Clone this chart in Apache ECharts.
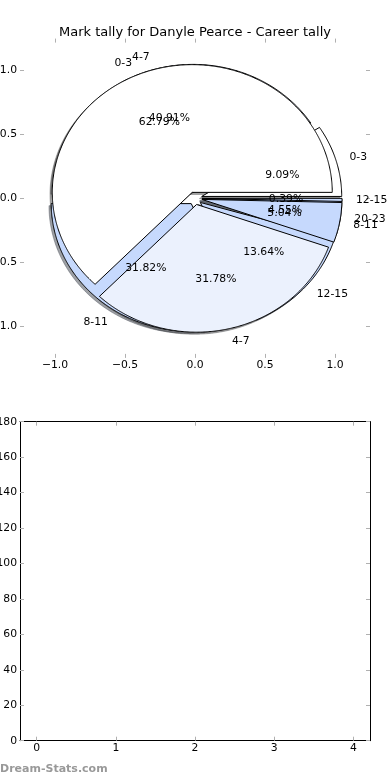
<!DOCTYPE html>
<html><head><meta charset="utf-8">
<script src="https://cdn.jsdelivr.net/npm/echarts@6/dist/echarts.min.js"></script>
<style>html,body{margin:0;padding:0;background:#fff}#c{width:390px;height:780px}</style>
</head><body><div id="c"></div>
<script>
// ---- data ----
const titleText = 'Mark tally for Danyle Pearce - Career tally';
const labelsA = ['0-3', '4-7', '8-11', '12-15', '20-23'];
const valuesA = [2, 9, 7, 3, 1];
const labelsB = ['0-3', '4-7', '8-11', '12-15'];
const valuesB = [162, 82, 13, 1];
const pieTicks = [-1, -0.5, 0, 0.5, 1];
const barXTicks = [0, 1, 2, 3, 4];
const barYTicksMax = 180;
const watermark = 'Dream-Stats.com';
const sliceColors = ['#ffffff', '#ebf1fd', '#c6d9fd', '#c6d9fd', '#a9c6fb'];

// ---- helpers ----
const FONT = 'DejaVu Sans';
const EXPLODE = 0.05;
function buildSlices(values, labels) {
  const tot = values.reduce((a, b) => a + b, 0);
  let acc = 0;
  return values.map((v, i) => {
    const t1 = acc / tot * 360; acc += v; const t2 = acc / tot * 360;
    const mid = (t1 + t2) / 2 * Math.PI / 180;
    return {
      t1, t2, mid, label: labels[i], pct: (v / tot * 100).toFixed(2) + '%',
      color: sliceColors[i % sliceColors.length],
      cx: EXPLODE * Math.cos(mid), cy: EXPLODE * Math.sin(mid)
    };
  });
}
const A = buildSlices(valuesA, labelsA);
const B = buildSlices(valuesB, labelsB);
const ALL = A.concat(B);

function wedgePts(api, s, ox, oy) {
  const pts = [api.coord([s.cx + ox, s.cy + oy])];
  const n = Math.max(2, Math.ceil((s.t2 - s.t1) / 0.5));
  for (let k = 0; k <= n; k++) {
    const t = (s.t1 + (s.t2 - s.t1) * k / n) * Math.PI / 180;
    pts.push(api.coord([s.cx + ox + Math.cos(t), s.cy + oy + Math.sin(t)]));
  }
  return pts;
}
function shade(c) {
  const r = parseInt(c.slice(1, 3), 16), g = parseInt(c.slice(3, 5), 16), b = parseInt(c.slice(5, 7), 16);
  return 'rgba(' + Math.round(r * 0.3) + ',' + Math.round(g * 0.3) + ',' + Math.round(b * 0.3) + ',0.5)';
}
function pieSeries(list, z) {
  return {
    type: 'custom', xAxisIndex: 0, yAxisIndex: 0, z: z, clip: false, silent: true,
    data: list.map(() => [0, 0]), encode: { x: 0, y: 1 },
    renderItem: function (params, api) {
      const s = list[params.dataIndex];
      return { type: 'polygon', shape: { points: wedgePts(api, s, 0, 0) },
        style: { fill: s.color, stroke: '#000', lineWidth: 1, lineJoin: 'miter' } };
    }
  };
}
const tickGray = '#b0b0b0';
const numFmt = v => (v < 0 ? '\u2212' : '') + Math.abs(v).toFixed(1);
function pieAxis(pos, showLabel) {
  return {
    type: 'value', gridIndex: 0, position: pos, min: -1.25, max: 1.25,
    axisLine: { show: false, onZero: false },
    axisTick: { show: true, inside: true, length: 4, lineStyle: { color: tickGray }, customValues: pieTicks },
    axisLabel: { show: showLabel, customValues: pieTicks, formatter: numFmt, fontFamily: FONT, fontSize: 10.8, color: '#000', margin: pos === 'left' ? 3 : 2 },
    splitLine: { show: false }
  };
}
function barAxisX(pos, showLabel) {
  return {
    type: 'value', gridIndex: 1, position: pos, min: -0.21, max: 4.21,
    axisLine: { show: true, onZero: false, lineStyle: { color: '#000', width: 1 } },
    axisTick: { show: true, inside: true, length: 4, lineStyle: { color: tickGray }, customValues: barXTicks },
    axisLabel: { show: showLabel, customValues: barXTicks, formatter: v => String(v), fontFamily: FONT, fontSize: 10.8, color: '#000', margin: 2 },
    splitLine: { show: false }
  };
}
function barAxisY(pos, showLabel) {
  return {
    type: 'value', gridIndex: 1, position: pos, min: 0, max: barYTicksMax, interval: 20,
    axisLine: { show: true, onZero: false, lineStyle: { color: '#000', width: 1 } },
    axisTick: { show: true, inside: true, length: 4, lineStyle: { color: tickGray } },
    axisLabel: { show: showLabel, fontFamily: FONT, fontSize: 10.8, color: '#000', margin: 3 },
    splitLine: { show: false }
  };
}

const chart = echarts.init(document.getElementById('c'), null, { renderer: 'canvas' });
chart.setOption({
  animation: false,
  backgroundColor: '#fff',
  title: { text: titleText, left: 'center', top: 21, textStyle: { fontFamily: FONT, fontSize: 13, fontWeight: 'normal', color: '#000' } },
  grid: [
    { left: 20, right: 20, top: 38.6, bottom: 422.1, containLabel: false, outerBoundsMode: 'none' },
    { left: 20, right: 20, top: 421.7, bottom: 39.3, containLabel: false, outerBoundsMode: 'none' }
  ],
  xAxis: [pieAxis('bottom', true), pieAxis('top', false), barAxisX('bottom', true), barAxisX('top', false)],
  yAxis: [pieAxis('left', true), pieAxis('right', false), barAxisY('left', true), barAxisY('right', false)],
  graphic: [{ type: 'text', x: 0, y: 769, style: { text: watermark, fontFamily: FONT, fontSize: 11, fontWeight: 'bold', fill: '#999', verticalAlign: 'middle', align: 'left' } }],
  series: [
    {
      type: 'custom', xAxisIndex: 0, yAxisIndex: 0, z: 1, clip: false, silent: true,
      data: ALL.map(() => [0, 0]), encode: { x: 0, y: 1 },
      renderItem: function (params, api) {
        const s = ALL[params.dataIndex];
        const c = shade(s.color);
        return { type: 'polygon', shape: { points: wedgePts(api, s, -0.016, -0.016) }, style: { fill: c, stroke: c, lineWidth: 0.8 } };
      }
    },
    pieSeries(A, 2),
    pieSeries(B, 3),
    {
      type: 'custom', xAxisIndex: 0, yAxisIndex: 0, z: 4, clip: false, silent: true,
      data: ALL.map(() => [0, 0]), encode: { x: 0, y: 1 },
      renderItem: function (params, api) {
        const s = ALL[params.dataIndex];
        const lx = s.cx + 1.1 * Math.cos(s.mid), ly = s.cy + 1.1 * Math.sin(s.mid);
        const px = s.cx + 0.6 * Math.cos(s.mid), py = s.cy + 0.6 * Math.sin(s.mid);
        const lp = api.coord([lx, ly]), pp = api.coord([px, py]);
        return { type: 'group', children: [
          { type: 'text', x: lp[0], y: lp[1], style: { text: s.label, fontFamily: FONT, fontSize: 10.8, fill: '#000', align: lx > 0 ? 'left' : 'right', verticalAlign: 'middle' } },
          { type: 'text', x: pp[0], y: pp[1], style: { text: s.pct, fontFamily: FONT, fontSize: 10.8, fill: '#000', align: 'center', verticalAlign: 'middle' } }
        ] };
      }
    }
  ]
});
</script></body></html>
